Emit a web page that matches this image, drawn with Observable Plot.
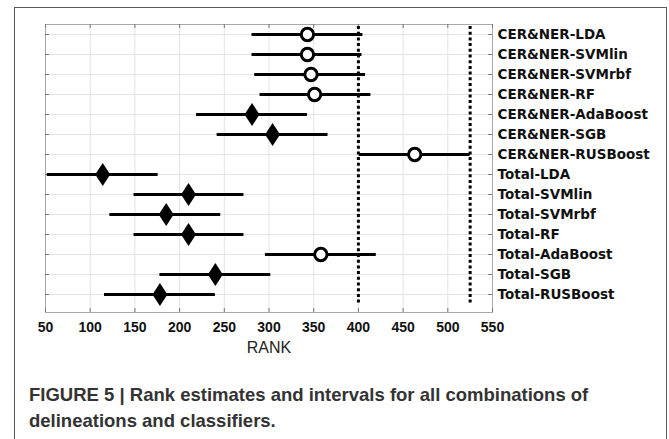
<!DOCTYPE html>
<html>
<head>
<meta charset="utf-8">
<script src="https://cdn.jsdelivr.net/npm/d3@7"></script>
<script src="https://cdn.jsdelivr.net/npm/@observablehq/plot@0.6"></script>
<style>
  html, body { margin: 0; padding: 0; background: #fff; }
  body { width: 669px; height: 439px; position: relative; overflow: hidden; font-family: "Liberation Sans", Arial, sans-serif; }
  #frame { position: absolute; left: 14px; top: 7px; width: 653px; height: 460px; border: 1.5px solid #5a5a5a; box-sizing: border-box; }
  #chart { position: absolute; left: 0; top: 0; }
  #caption { position: absolute; left: 29px; top: 382px; font-size: 18.5px; font-weight: bold; line-height: 25.6px; color: #333; white-space: nowrap; }
</style>
</head>
<body>
<div id="frame"></div>
<div id="chart"></div>
<div id="caption">FIGURE 5 | Rank estimates and intervals for all combinations of<br>delineations and classifiers.</div>
<script>
// ---- data ----
const methods = [
  "CER&NER-LDA", "CER&NER-SVMlin", "CER&NER-SVMrbf", "CER&NER-RF",
  "CER&NER-AdaBoost", "CER&NER-SGB", "CER&NER-RUSBoost",
  "Total-LDA", "Total-SVMlin", "Total-SVMrbf", "Total-RF",
  "Total-AdaBoost", "Total-SGB", "Total-RUSBoost"
];
const rankEstimate = [343, 343, 347, 351, 281, 304, 463, 114, 210, 185, 210, 358, 240, 178];
const rankLower    = [281, 281, 284, 290, 219, 242, 401,  52, 149, 122, 149, 296, 178, 116];
const rankUpper    = [405, 404, 408, 414, 343, 366, 525, 176, 272, 246, 272, 420, 302, 240];
// true = hollow circle marker, false = filled diamond marker
const hollowMarker = [true, true, true, true, false, false, true, false, false, false, false, true, false, false];
const thresholds = [400, 525];
const xTicks = [50, 100, 150, 200, 250, 300, 350, 400, 450, 500, 550];

// row position: first method at top
const rows = methods.map((m, i) => ({
  name: m,
  pos: methods.length - i,
  est: rankEstimate[i],
  lo: rankLower[i],
  hi: rankUpper[i],
  hollow: hollowMarker[i]
}));
const rowPos = rows.map(d => d.pos);
const nameByPos = new Map(rows.map(d => [d.pos, d.name]));

const tallDiamond = {
  draw(ctx, size) {
    const r = Math.sqrt(size / Math.PI);
    const h = r * 1.65, w = r * 1.07;
    ctx.moveTo(0, -h); ctx.lineTo(w, 0); ctx.lineTo(0, h); ctx.lineTo(-w, 0); ctx.closePath();
  }
};

const W = 669, H = 362;
const chart = Plot.plot({
  width: W,
  height: H,
  marginLeft: 45,
  marginRight: W - 492,
  marginTop: 24,
  marginBottom: H - 312,
  style: { fontFamily: "'Liberation Sans', Arial, sans-serif", background: "transparent", color: "#111" },
  x: { domain: [50, 550], ticks: xTicks },
  y: { domain: [0.1, 14.5] },
  marks: [
    // grid
    Plot.ruleX(xTicks, { stroke: "#e3e3e3", strokeWidth: 1 }),
    Plot.ruleY(rowPos, { stroke: "#e3e3e3", strokeWidth: 1 }),
    Plot.frame({ stroke: "#a8a8a8", strokeWidth: 1 }),
    // inward ticks
    Plot.ruleX(xTicks, { insetTop: 284, stroke: "#777" }),
    Plot.ruleX(xTicks, { insetBottom: 284, stroke: "#777" }),
    Plot.ruleY(rowPos, { insetRight: 443, stroke: "#777" }),
    Plot.ruleY(rowPos, { insetLeft: 443, stroke: "#777" }),
    // thresholds
    Plot.ruleX(thresholds, { stroke: "#000", strokeWidth: 3, strokeDasharray: "3,2.7", insetTop: 2, insetBottom: 8 }),
    // intervals
    Plot.ruleY(rows, { y: "pos", x1: "lo", x2: "hi", stroke: "#000", strokeWidth: 3.2 }),
    // markers
    Plot.dot(rows.filter(d => d.hollow), { x: "est", y: "pos", r: 6.2, symbol: "circle", stroke: "#000", strokeWidth: 3, fill: "#fff" }),
    Plot.dot(rows.filter(d => !d.hollow), { x: "est", y: "pos", r: 7, symbol: tallDiamond, fill: "#000", stroke: "none" }),
    // axes
    Plot.axisX({ ticks: xTicks, tickSize: 0, tickPadding: 10, fontSize: 14, fontWeight: "bold", label: null }),
    Plot.axisY({ anchor: "right", ticks: rowPos, tickSize: 0, tickPadding: 5, fontSize: 13.5, fontWeight: "bold", fontFamily: "'DejaVu Sans', sans-serif", tickFormat: v => nameByPos.get(v), label: null }),
    Plot.text(["RANK"], { frameAnchor: "bottom", dy: 40, lineAnchor: "bottom", fontSize: 16, fill: "#222" })
  ]
});
document.getElementById("chart").appendChild(chart);
</script>
</body>
</html>
